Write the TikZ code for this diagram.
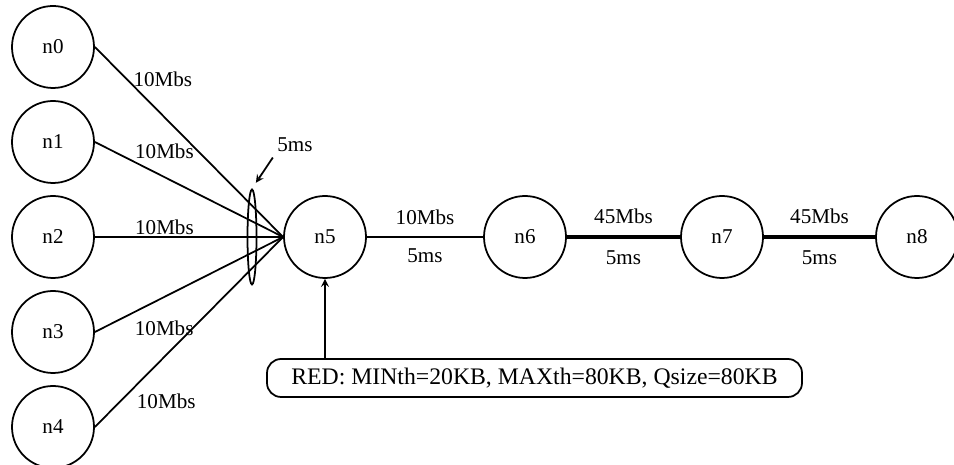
\documentclass[tikz,border=0pt]{standalone}
\usepackage{fontspec}
\setmainfont{Liberation Serif}
\usetikzlibrary{shapes.geometric}
\begin{document}
\begin{tikzpicture}[
    font=\fontsize{12}{14}\selectfont, line width=1pt,
    host/.style={draw, circle, minimum size=1.64cm, inner sep=0pt},
    fatlink/.style={line width=2.6pt}]
    \useasboundingbox (0,0) rectangle (19.08,9.3);
    \node[host] (n0) at (1.06,8.36) {n0};
    \node[host] (n1) at (1.06,6.46) {n1};
    \node[host] (n2) at (1.06,4.56) {n2};
    \node[host] (n3) at (1.06,2.66) {n3};
    \node[host] (n4) at (1.06,0.76) {n4};
    \node[host] (n5) at (6.5,4.56) {n5};
    \node[host] (n6) at (10.5,4.56) {n6};
    \node[host] (n7) at (14.44,4.56) {n7};
    \node[host] (n8) at (18.34,4.56) {n8};
    \draw (n0.east) -- node[pos=0.17, anchor=west] {10Mbs} (n5.west);
    \draw (n1.east) -- node[pos=0.2, anchor=south west, inner sep=1pt] {10Mbs} (n5.west);
    \draw (n2.east) -- node[pos=0.2, anchor=south west, inner sep=1pt] {10Mbs} (n5.west);
    \draw (n3.east) -- node[pos=0.18, anchor=north west, inner sep=3pt] {10Mbs} (n5.west);
    \draw (n4.east) -- node[pos=0.2, anchor=north west, inner sep=2pt] {10Mbs} (n5.west);
    \node[draw, ellipse, minimum width=0.18cm, minimum height=1.9cm, inner sep=0pt] (bundle) at (5.04,4.56) {};
    \node[inner sep=1pt] (delay) at (5.9,6.4) {5ms};
    \draw[-stealth, shorten <=2pt, shorten >=4pt] (delay.south west) -- (bundle.north);
    \draw (n5) -- node[above=3pt] {10Mbs} node[below=3pt] {5ms} (n6);
    \draw[fatlink] (n6) -- node[above=3pt] {45Mbs} node[below=3pt] {5ms} (n7);
    \draw[fatlink] (n7) -- node[above=3pt] {45Mbs} node[below=3pt] {5ms} (n8);
    \node[draw, rounded corners=8pt, minimum width=10.7cm, minimum height=0.76cm,
        font=\fontsize{13.5}{15}\selectfont] (red) at (10.69,1.74) {RED: MINth=20KB, MAXth=80KB, Qsize=80KB};
    \draw[-stealth] (red.north -| n5) -- (n5.south);
\end{tikzpicture}
\end{document}
